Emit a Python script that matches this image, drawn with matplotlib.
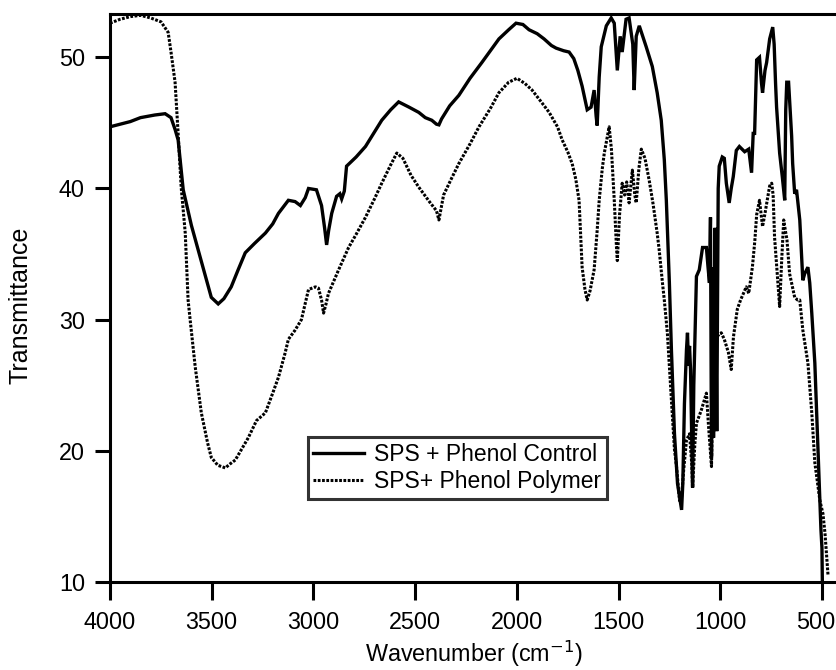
import matplotlib
matplotlib.use('Agg')
import matplotlib.pyplot as plt
import matplotlib.transforms as mtransforms

plt.rcParams['font.family'] = ['Liberation Sans', 'DejaVu Sans']

# SPS + Phenol Control (solid)
wn_control = [4000, 3950, 3900, 3850, 3780, 3729, 3700, 3680, 3665, 3640,
              3600, 3566, 3530, 3502, 3468, 3440, 3404, 3370, 3335, 3290,
              3236, 3200, 3172, 3123, 3090, 3064, 3040, 3024, 2985, 2960,
              2945, 2935, 2925, 2910, 2886, 2870, 2861, 2848, 2837, 2790,
              2744, 2700, 2664, 2620, 2581, 2530, 2482, 2450, 2418, 2395,
              2383, 2370, 2330, 2285, 2230, 2172, 2130, 2088, 2040, 2004,
              1970, 1940, 1900, 1866, 1830, 1807, 1770, 1743, 1720, 1700,
              1679, 1654, 1635, 1620, 1610, 1605, 1595, 1585, 1560, 1536,
              1521, 1506, 1492, 1482, 1463, 1448, 1430, 1423, 1413, 1398,
              1364, 1334, 1310, 1290, 1275, 1265, 1250, 1240, 1225, 1210,
              1190, 1184, 1176, 1166, 1161, 1156, 1151, 1146, 1136, 1130,
              1117, 1103, 1087, 1068, 1060, 1053, 1048, 1043, 1038, 1033,
              1025, 1017, 1010, 1005, 990, 980, 970, 956, 946, 936,
              921, 906, 880, 860, 846, 838, 831, 821, 807, 797,
              792, 780, 772, 757, 742, 735, 728, 723, 708, 695,
              683, 678, 673, 664, 649, 644, 634, 625, 609, 594,
              585, 569, 560, 550, 535, 520, 505, 500, 498]
t_control = [44.7, 44.9, 45.1, 45.4, 45.6, 45.7, 45.4, 44.5, 43.7, 39.9,
             37.2, 35.3, 33.3, 31.7, 31.2, 31.6, 32.5, 33.8, 35.1, 35.8,
             36.6, 37.3, 38.1, 39.1, 39.0, 38.7, 39.3, 40.0, 39.9, 38.7,
             37.0, 35.7, 36.8, 38.1, 39.4, 39.6, 39.2, 39.8, 41.7, 42.4,
             43.2, 44.3, 45.2, 46.0, 46.6, 46.2, 45.8, 45.4, 45.2, 44.9,
             44.85, 45.3, 46.3, 47.1, 48.4, 49.6, 50.5, 51.4, 52.1, 52.6,
             52.5, 52.1, 51.8, 51.4, 50.9, 50.7, 50.5, 50.4, 49.9, 49.0,
             47.8, 46.0, 46.2, 47.5, 45.5, 44.8, 48.5, 50.8, 52.4, 53.0,
             52.6, 49.0, 51.6, 50.4, 52.9, 53.0, 51.0, 47.5, 51.6, 52.4,
             50.8, 49.3, 47.3, 45.2, 42.2, 39.1, 32.8, 27.7, 21.3, 17.5,
             15.5, 17.5, 23.6, 27.7, 29.0, 26.5, 28.0, 26.2, 17.2, 25.0,
             33.3, 33.8, 35.5, 35.5, 34.0, 32.8, 37.8, 19.5, 34.0, 21.0,
             37.0, 21.5, 40.0, 41.7, 42.4, 42.3, 40.4, 38.9, 40.0, 40.9,
             42.9, 43.2, 42.8, 43.0, 41.2, 44.2, 44.2, 49.8, 50.0, 48.0,
             47.3, 49.0, 49.6, 51.4, 52.3, 51.0, 48.0, 46.2, 42.7, 40.9,
             39.1, 46.0, 48.1, 48.1, 44.0, 41.9, 39.6, 39.9, 37.6, 33.0,
             33.5, 34.0, 32.8, 30.5, 26.7, 20.3, 14.0, 12.6, 10.0]

# SPS+ Phenol Polymer (dotted)
wn_polymer = [4000, 3950, 3900, 3850, 3800, 3749, 3714, 3700, 3680, 3665,
              3650, 3630, 3616, 3606, 3581, 3551, 3520, 3502, 3470, 3433,
              3410, 3384, 3350, 3320, 3280, 3236, 3200, 3172, 3140, 3123,
              3090, 3059, 3024, 2990, 2975, 2960, 2950, 2938, 2926, 2876,
              2827, 2790, 2744, 2700, 2664, 2620, 2590, 2560, 2520, 2482,
              2430, 2395, 2383, 2360, 2320, 2285, 2230, 2186, 2130, 2088,
              2040, 1999, 1960, 1925, 1880, 1841, 1800, 1777, 1750, 1728,
              1710, 1694, 1679, 1665, 1654, 1640, 1620, 1605, 1595, 1580,
              1570, 1546, 1535, 1521, 1510, 1506, 1495, 1482, 1470, 1460,
              1448, 1432, 1420, 1413, 1400, 1388, 1370, 1349, 1330, 1310,
              1300, 1284, 1275, 1260, 1250, 1235, 1225, 1215, 1200, 1190,
              1180, 1166, 1151, 1140, 1136, 1125, 1117, 1093, 1068, 1058,
              1043, 1036, 1029, 1018, 995, 980, 960, 946, 935, 916,
              900, 872, 860, 842, 830, 821, 807, 792, 780, 770,
              757, 747, 740, 733, 720, 708, 698, 688, 680, 672,
              659, 645, 634, 620, 609, 594, 569, 550, 535, 510,
              495, 485, 470]
t_polymer = [52.6, 52.9, 53.1, 53.2, 53.0, 52.7, 51.9, 50.4, 48.1, 44.2,
             40.1, 36.6, 31.5, 30.0, 26.4, 22.9, 20.6, 19.5, 18.9, 18.7,
             19.0, 19.3, 20.2, 21.0, 22.3, 22.9, 24.4, 25.6, 27.4, 28.5,
             29.2, 30.0, 32.3, 32.5, 32.4, 31.5, 30.5, 31.2, 32.0, 33.8,
             35.5, 36.5, 37.8, 39.2, 40.4, 41.8, 42.7, 42.3, 41.0, 40.1,
             39.0, 38.3, 37.6, 39.5, 40.8, 41.9, 43.4, 44.7, 46.1, 47.3,
             48.1, 48.4, 48.0, 47.5, 46.6, 45.8, 44.7, 43.7, 42.8, 41.9,
             40.7, 39.1, 34.0, 32.3, 31.5, 32.2, 33.8, 36.8, 39.1, 41.5,
             42.7, 44.7, 43.0, 39.1, 35.5, 34.5, 38.0, 40.4, 39.5, 40.5,
             38.9, 41.4, 39.5, 38.9, 41.5, 43.0, 42.3, 40.6, 38.8, 36.6,
             35.3, 32.8, 31.5, 29.0, 26.4, 22.6, 20.1, 18.8, 16.2, 16.5,
             18.5, 20.8, 21.3, 19.0, 17.2, 20.5, 22.1, 23.1, 24.4, 22.0,
             18.8, 25.0, 29.0, 28.7, 29.0, 28.5, 27.5, 26.2, 28.7, 30.8,
             31.5, 32.5, 32.0, 34.0, 36.0, 38.0, 39.1, 37.1, 38.1, 39.0,
             40.2, 40.4, 39.5, 36.3, 33.5, 31.0, 34.5, 37.6, 36.8, 36.1,
             33.5, 32.5, 31.7, 31.5, 31.5, 29.2, 26.7, 22.9, 19.1, 16.2,
             15.2, 13.7, 10.5]

fig = plt.figure(figsize=(8.37, 6.70), dpi=100)
ax = fig.add_axes([0.1314, 0.1313, 0.8686, 0.8478])

ax.plot(wn_control, t_control, color='black', lw=2.4, solid_joinstyle='miter',
        label='SPS + Phenol Control')
ax.plot(wn_polymer, t_polymer, color='black', lw=2.2, linestyle=(0, (0.9, 0.5)),
        label='SPS+ Phenol Polymer')

ax.set_xlim(4000, 426)
ax.set_ylim(10, 53.3)
ax.set_xticks([4000, 3500, 3000, 2500, 2000, 1500, 1000, 500])
ax.set_yticks([10, 20, 30, 40, 50])

for side in ['left', 'bottom', 'top']:
    ax.spines[side].set_linewidth(2.2)
ax.spines['right'].set_visible(False)
ax.tick_params(axis='x', direction='out', length=13, width=2.2, pad=8, labelsize=16.8)
ax.tick_params(axis='y', direction='out', length=11, width=2.2, pad=7, labelsize=16.8)

# keep the last x label inside the figure
last = ax.get_xticklabels()[-1]
last.set_transform(last.get_transform() +
                   mtransforms.ScaledTranslation(-6 / 100, 0, fig.dpi_scale_trans))

ax.set_xlabel('Wavenumber (cm$^{-1}$)', fontsize=16.8, labelpad=3)
ax.set_ylabel('Transmittance', fontsize=18)
ax.yaxis.set_label_coords(-0.107, 0.488)

leg = ax.legend(loc='upper left', bbox_to_anchor=(0.272, 0.255), borderaxespad=0,
                fontsize=16.5, frameon=True, fancybox=False, handlelength=2.2,
                handletextpad=0.45, labelspacing=0.2, borderpad=0.25)
leg.get_frame().set_edgecolor('black')
leg.get_frame().set_linewidth(2.2)

fig.savefig('out.png', dpi=100)
